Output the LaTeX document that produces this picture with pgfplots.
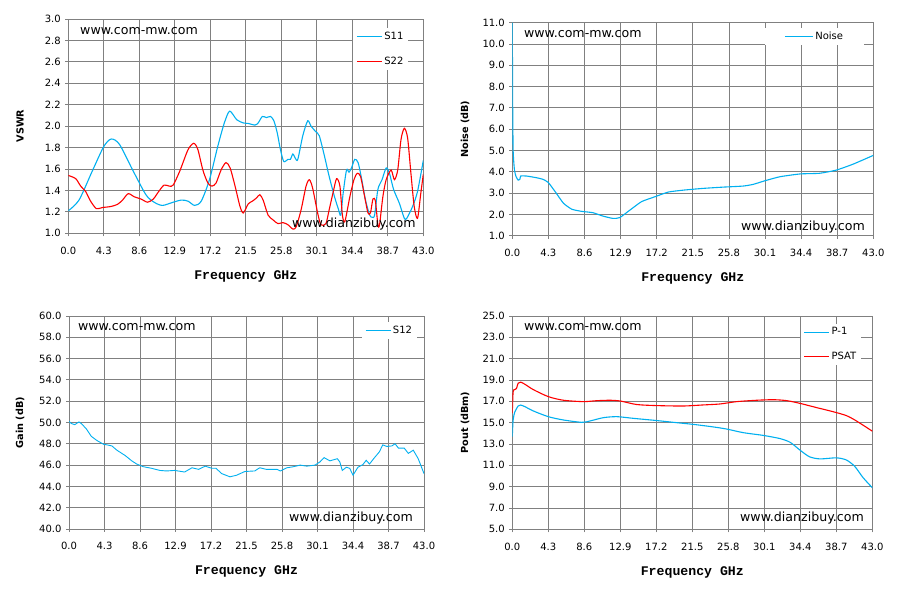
\documentclass[border=0pt]{standalone}
\usepackage{fontspec}
\setmainfont{DejaVu Sans}
\newfontfamily\monob{Liberation Mono}
\usepackage{pgfplots}
\pgfplotsset{compat=1.18}
\definecolor{gridgray}{RGB}{128,128,128}
\definecolor{cblue}{RGB}{0,176,240}
\definecolor{cred}{RGB}{255,0,0}
\newcommand{\wm}{\fontsize{12.6}{15}\selectfont}
\pgfplotsset{
  panel/.style={
    scale only axis,
    anchor=south west,
    xmin=0, xmax=43,
    xtick={0,4.3,8.6,12.9,17.2,21.5,25.8,30.1,34.4,38.7,43},
    grid=major,
    major grid style={draw=gridgray, line width=0.8pt},
    axis line style={draw=gridgray, line width=0.8pt},
    tick style={draw=gridgray, line width=0.8pt},
    tick align=outside,
    major tick length=3pt,
    xtick pos=bottom, ytick pos=left,
    /pgf/number format/assume math mode=true,
    /pgf/number format/fixed, /pgf/number format/fixed zerofill, /pgf/number format/precision=1,
    ticklabel style={font=\fontsize{10}{12}\selectfont},
    xticklabel style={yshift=-7pt},
    yticklabel style={xshift=-1pt},
    xlabel={Frequency GHz},
    xlabel style={font=\monob\bfseries\fontsize{13.2}{15}\selectfont, yshift=-9pt},
    ylabel style={font=\fontsize{9.7}{12}\selectfont\bfseries},
    legend cell align=left,
    legend style={draw=none, fill=white, font=\fontsize{10}{12}\selectfont, anchor=north west, inner xsep=3pt, inner ysep=2pt, row sep=6pt},
    legend image code/.code={\draw[#1] (0pt,0pt) -- (25pt,0pt);},
    every axis plot/.append style={line width=1.1pt, smooth, tension=0.45},
  }
}
\begin{document}
\begin{tikzpicture}
\useasboundingbox (0,0) rectangle (901pt,593pt);
\fill[white] (0,0) rectangle (901pt,593pt);
% ---------------- VSWR ----------------
\begin{axis}[panel, at={(68.3pt,359.7pt)}, width=355pt, height=214.3pt,
  ymin=1, ymax=3, ytick={1,1.2,...,3.01},
  ylabel={VSWR}, ylabel style={at={(axis description cs:-0.136,0.5)}, anchor=center},
  legend style={at={(axis description cs:0.802,0.958)}, row sep=12pt}]
\addplot[cblue] coordinates {(0,1.21) (1.3,1.31) (2.9,1.58) (4.3,1.81) (5.2,1.88) (6.2,1.83) (7.8,1.59) (9.4,1.36) (10.4,1.29) (11.4,1.26) (12.7,1.29) (13.7,1.31) (14.5,1.30) (15.3,1.26) (16.1,1.30) (17.1,1.50) (18.1,1.81) (18.9,2.03) (19.55,2.14) (20.4,2.06) (21.2,2.03) (21.8,2.025) (22.6,2.01) (23.0,2.03) (23.5,2.09) (24.0,2.08) (24.5,2.09) (24.9,2.05) (25.3,1.94) (25.7,1.78) (26.1,1.67) (26.6,1.69) (26.9,1.69) (27.2,1.74) (27.5,1.70) (27.8,1.69) (28.4,1.91) (29.0,2.05) (29.4,2.0) (29.95,1.95) (30.4,1.91) (31.0,1.73) (31.6,1.53) (32.25,1.34) (32.7,1.23) (33.0,1.17) (33.3,1.38) (33.7,1.59) (34.0,1.57) (34.3,1.61) (34.7,1.69) (35.1,1.66) (35.5,1.52) (36.0,1.31) (36.5,1.17) (36.8,1.15) (37.1,1.17) (37.5,1.41) (38.0,1.50) (38.5,1.61) (38.9,1.56) (39.4,1.41) (40.1,1.28) (40.7,1.14) (41.0,1.14) (41.7,1.25) (42.3,1.39) (43.0,1.68)};
\addlegendentry{S11}
\addplot[cred] coordinates {(0,1.54) (0.9,1.51) (1.5,1.44) (2.1,1.39) (2.7,1.30) (3.4,1.23) (4.1,1.24) (5.15,1.25) (5.96,1.27) (6.57,1.31) (7.26,1.37) (8.0,1.34) (8.8,1.32) (9.6,1.29) (10.3,1.32) (10.95,1.39) (11.6,1.45) (12.25,1.44) (12.7,1.45) (13.5,1.58) (14.5,1.78) (15.2,1.84) (15.7,1.78) (16.3,1.59) (16.9,1.47) (17.4,1.44) (17.9,1.47) (18.5,1.59) (19.1,1.66) (19.6,1.61) (20.2,1.44) (20.8,1.25) (21.2,1.19) (21.8,1.275) (22.3,1.30) (22.8,1.33) (23.2,1.36) (23.6,1.31) (24.2,1.17) (24.8,1.125) (25.4,1.09) (26.0,1.10) (26.6,1.08) (27.2,1.04) (27.6,1.06) (28.2,1.22) (28.8,1.44) (29.2,1.50) (29.6,1.42) (30.2,1.19) (30.6,1.08) (31.2,1.09) (31.6,1.22) (32.1,1.39) (32.5,1.51) (32.9,1.44) (33.2,1.17) (33.5,1.11) (34.1,1.34) (34.6,1.50) (35.0,1.56) (35.4,1.53) (35.9,1.34) (36.3,1.19) (36.6,1.19) (36.9,1.32) (37.2,1.30) (37.5,1.08) (37.7,1.08) (38.1,1.34) (38.5,1.50) (39.1,1.59) (39.5,1.50) (39.9,1.59) (40.3,1.875) (40.7,1.98) (41.1,1.89) (41.5,1.56) (41.9,1.25) (42.3,1.14) (42.7,1.375) (43.0,1.55)};
\addlegendentry{S22}
\node[anchor=west, inner sep=0pt, font=\wm] at (axis description cs:0.033,0.945) {www.com-mw.com};
\node[anchor=east, inner sep=0pt, font=\wm] at (axis description cs:0.979,0.043) {www.dianzibuy.com};
\end{axis}
% ---------------- Noise ----------------
\begin{axis}[panel, at={(512.3pt,357.3pt)}, width=361pt, height=213pt,
  ymin=1, ymax=11, ytick={1,2,...,11},
  ylabel={Noise (dB)}, ylabel style={at={(axis description cs:-0.131,0.5)}, anchor=center},
  legend style={at={(axis description cs:0.70,0.975)}, inner xsep=19pt},
  legend image code/.code={\draw[#1] (0pt,0pt) -- (28pt,0pt);}]
\addplot[cblue, tension=0.3] coordinates {(0,11.0) (0.04,7.4) (0.1,5.0) (0.25,4.1) (0.45,3.77) (0.7,3.61) (0.9,3.64) (1.0,3.8) (1.7,3.8) (2.9,3.72) (3.7,3.64) (4.3,3.49) (5.1,3.07) (6.1,2.52) (7.1,2.24) (8.3,2.14) (9.6,2.08) (10.8,1.92) (12.0,1.81) (12.8,1.85) (14.0,2.2) (15.4,2.6) (17.0,2.83) (18.6,3.05) (20.4,3.14) (22.7,3.22) (25.1,3.28) (27.5,3.33) (28.7,3.41) (30.1,3.58) (31.9,3.77) (34.3,3.9) (36.6,3.93) (38.6,4.08) (40.6,4.36) (43.0,4.77)};
\addlegendentry{Noise}
\node[anchor=west, inner sep=0pt, font=\wm] at (axis description cs:0.032,0.945) {www.com-mw.com};
\node[anchor=east, inner sep=0pt, font=\wm] at (axis description cs:0.977,0.042) {www.dianzibuy.com};
\end{axis}
% ---------------- Gain ----------------
\begin{axis}[panel, at={(69pt,64pt)}, width=355pt, height=213pt,
  ymin=40, ymax=60, ytick={40,42,...,60},
  ylabel={Gain (dB)}, ylabel style={at={(axis description cs:-0.138,0.5)}, anchor=center},
  legend style={at={(axis description cs:0.825,0.972)}},
  every axis plot/.append style={sharp plot}]
\addplot[cblue, line width=0.9pt] coordinates {(0,50.1) (0.3,49.9) (0.7,49.8) (1.2,50.05) (1.5,49.9) (2.1,49.4) (2.7,48.7) (3.4,48.3) (4.2,47.95) (4.6,47.9) (5.2,47.8) (5.8,47.4) (6.8,46.9) (7.6,46.4) (8.2,46.1) (9.0,45.85) (10.0,45.7) (11.0,45.5) (11.8,45.45) (12.8,45.5) (14.0,45.35) (14.9,45.75) (15.7,45.6) (16.5,45.9) (17.3,45.7) (17.8,45.7) (18.5,45.2) (19.5,44.9) (20.3,45.05) (21.3,45.4) (22.5,45.45) (23.1,45.75) (23.9,45.6) (25.2,45.6) (25.6,45.45) (26.4,45.75) (27.2,45.85) (28.0,46.0) (28.8,45.9) (29.8,46.0) (30.4,46.3) (30.9,46.7) (31.6,46.4) (32.5,46.6) (32.8,46.3) (33.1,45.5) (33.6,45.8) (34.0,45.7) (34.4,45.05) (35.0,45.8) (35.6,46.05) (36.0,46.45) (36.4,46.1) (36.9,46.6) (37.6,47.25) (38.0,47.9) (38.5,47.75) (39.1,47.8) (39.5,48.0) (39.9,47.6) (40.6,47.6) (41.1,47.1) (41.7,47.4) (42.3,46.6) (43.0,45.2)};
\addlegendentry{S12}
\node[anchor=west, inner sep=0pt, font=\wm] at (axis description cs:0.025,0.947) {www.com-mw.com};
\node[anchor=east, inner sep=0pt, font=\wm] at (axis description cs:0.969,0.05) {www.dianzibuy.com};
\end{axis}
% ---------------- Pout ----------------
\begin{axis}[panel, at={(512.3pt,63.7pt)}, width=360pt, height=213.3pt,
  ymin=5, ymax=25, ytick={5,7,...,25},
  ylabel={Pout (dBm)}, ylabel style={at={(axis description cs:-0.131,0.5)}, anchor=center},
  legend style={at={(axis description cs:0.80,0.965)}, row sep=12pt}]
\addplot[cblue] coordinates {(0,13.7) (0.1,15.25) (0.3,16.0) (0.7,16.56) (1.0,16.65) (1.5,16.5) (2.5,16.1) (4.3,15.56) (6.1,15.25) (8.3,15.03) (9.3,15.16) (10.9,15.47) (12.5,15.56) (14.5,15.4) (17.2,15.2) (19.6,15.0) (21.6,14.84) (24.0,14.6) (25.6,14.4) (27.6,14.06) (30.0,13.8) (32.0,13.5) (33.2,13.15) (34.4,12.4) (35.5,11.8) (36.75,11.6) (38.7,11.7) (39.9,11.5) (40.9,10.9) (41.9,9.84) (43.0,8.9)};
\addlegendentry{P-1}
\addplot[cred] coordinates {(0,15.9) (0.1,17.9) (0.3,18.1) (0.5,18.2) (0.7,18.7) (1.0,18.8) (1.5,18.6) (2.5,18.1) (4.3,17.44) (6.1,17.1) (8.5,16.97) (10.1,17.06) (11.7,17.1) (12.9,17.03) (14.85,16.7) (17.2,16.6) (20.4,16.56) (22.8,16.66) (24.8,16.75) (26.8,16.97) (29.2,17.1) (31.2,17.15) (32.8,17.06) (34.4,16.8) (36.4,16.4) (38.3,16.03) (39.9,15.66) (41.1,15.16) (43.0,14.2)};
\addlegendentry{PSAT}
\node[anchor=west, inner sep=0pt, font=\wm] at (axis description cs:0.032,0.947) {www.com-mw.com};
\node[anchor=east, inner sep=0pt, font=\wm] at (axis description cs:0.977,0.052) {www.dianzibuy.com};
\end{axis}
\end{tikzpicture}
\end{document}
